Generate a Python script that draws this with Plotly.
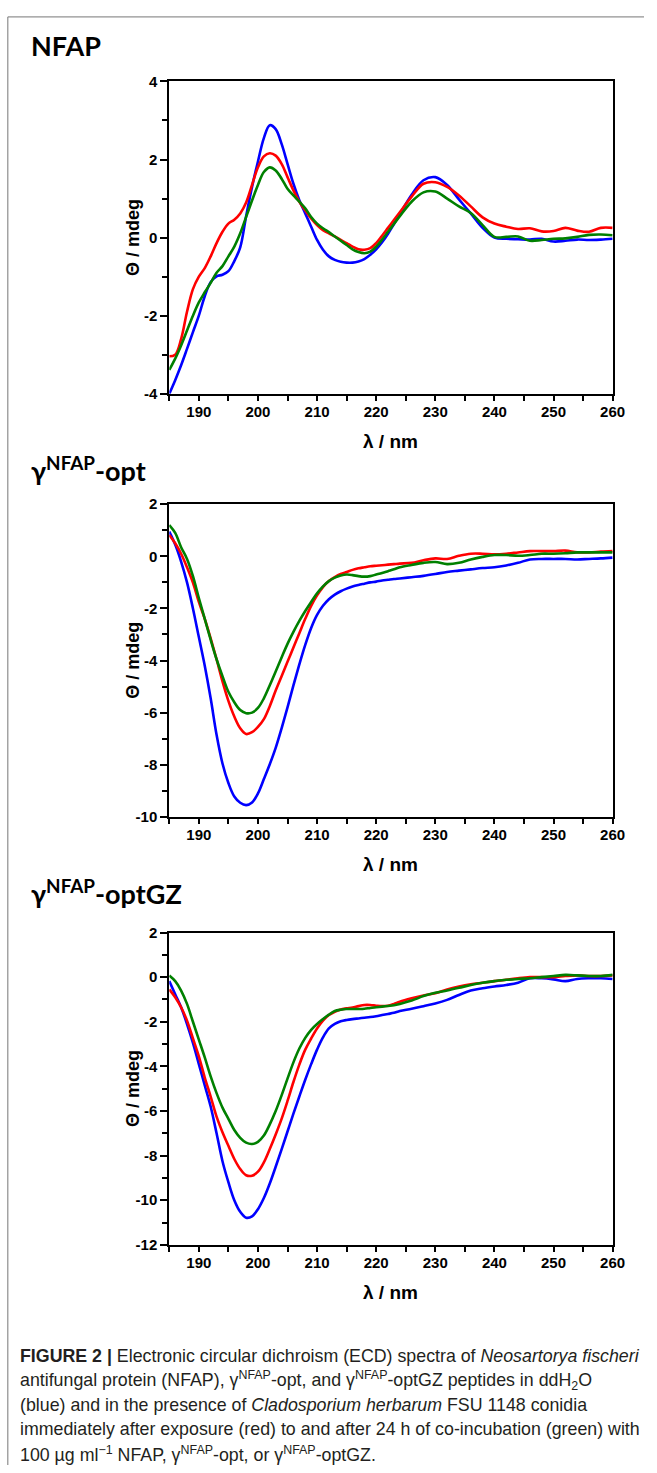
import plotly.graph_objects as go

# wavelength grid (nm) the curves were read at
wavelength = list(range(185, 225)) + list(range(226, 261, 2))

# ---- NFAP ----
nfap_water = [-4.0, -3.65, -3.27, -2.85, -2.42, -2.0, -1.5, -1.14, -0.99, -0.95,
              -0.86, -0.6, -0.25, 0.55, 1.3, 1.95, 2.55, 2.88, 2.78, 2.4,
              1.89, 1.38, 0.96, 0.62, 0.28, -0.06, -0.31, -0.48, -0.57, -0.62,
              -0.64, -0.64, -0.61, -0.55, -0.44, -0.3, -0.12, 0.1, 0.35, 0.6,
              1.1, 1.47, 1.55, 1.35, 0.98, 0.62, 0.25, 0.0, -0.03, -0.04,
              -0.05, -0.03, -0.1, -0.08, -0.05, -0.06, -0.05, -0.03]
nfap_0h = [-3.04, -3.0, -2.6, -1.9, -1.32, -1.0, -0.78, -0.48, -0.14, 0.15,
           0.36, 0.46, 0.62, 0.9, 1.35, 1.8, 2.08, 2.16, 2.1, 1.89,
           1.55, 1.21, 0.92, 0.7, 0.49, 0.32, 0.19, 0.11, 0.03, -0.06,
           -0.14, -0.23, -0.3, -0.31, -0.27, -0.14, 0.05, 0.25, 0.45, 0.65,
           1.05, 1.38, 1.42, 1.3, 1.08, 0.8, 0.52, 0.36, 0.28, 0.22,
           0.24, 0.16, 0.17, 0.25, 0.18, 0.15, 0.25, 0.25]
nfap_24h = [-3.39, -3.1, -2.76, -2.38, -2.0, -1.66, -1.4, -1.16, -0.9, -0.73,
            -0.48, -0.23, 0.11, 0.53, 0.95, 1.35, 1.68, 1.8, 1.72, 1.51,
            1.25, 1.08, 0.92, 0.75, 0.53, 0.36, 0.24, 0.14, 0.03, -0.08,
            -0.19, -0.3, -0.37, -0.4, -0.36, -0.23, -0.05, 0.15, 0.35, 0.55,
            0.92, 1.16, 1.18, 1.0, 0.8, 0.63, 0.32, 0.02, 0.02, 0.03,
            -0.08, -0.06, -0.03, -0.02, 0.02, 0.07, 0.08, 0.06]

# ---- gamma-NFAP-opt ----
opt_water = [0.95, 0.45, -0.2, -1.0, -2.0, -3.1, -4.2, -5.45, -6.85, -7.95,
             -8.7, -9.22, -9.46, -9.55, -9.45, -9.1, -8.55, -7.98, -7.35, -6.6,
             -5.8, -4.95, -4.15, -3.4, -2.75, -2.25, -1.9, -1.65, -1.47, -1.34,
             -1.24, -1.16, -1.1, -1.05, -1.0, -0.97, -0.93, -0.9, -0.87, -0.85,
             -0.8, -0.75, -0.68, -0.6, -0.55, -0.5, -0.45, -0.42, -0.35, -0.25,
             -0.12, -0.1, -0.1, -0.1, -0.12, -0.1, -0.08, -0.05]
opt_0h = [0.82, 0.5, 0.1, -0.42, -1.01, -1.75, -2.4, -3.15, -3.95, -4.8,
          -5.55, -6.15, -6.6, -6.82, -6.75, -6.55, -6.25, -5.75, -5.15, -4.6,
          -4.05, -3.5, -2.95, -2.4, -1.9, -1.5, -1.18, -0.95, -0.8, -0.68,
          -0.6, -0.52, -0.46, -0.42, -0.38, -0.36, -0.34, -0.32, -0.3, -0.28,
          -0.25, -0.15, -0.08, -0.1, 0.02, 0.1, 0.1, 0.08, 0.1, 0.15,
          0.2, 0.2, 0.2, 0.22, 0.15, 0.15, 0.18, 0.2]
opt_24h = [1.2, 0.9, 0.35, -0.1, -0.76, -1.6, -2.4, -3.2, -3.95, -4.6,
           -5.2, -5.6, -5.9, -6.02, -6.0, -5.82, -5.45, -4.95, -4.42, -3.88,
           -3.36, -2.9, -2.48, -2.1, -1.75, -1.42, -1.15, -0.95, -0.82, -0.74,
           -0.7, -0.72, -0.76, -0.78, -0.76, -0.7, -0.64, -0.57, -0.5, -0.42,
           -0.33, -0.25, -0.22, -0.3, -0.25, -0.12, -0.02, 0.05, 0.05, 0.02,
           0.05, 0.1, 0.1, 0.12, 0.15, 0.15, 0.15, 0.15]

# ---- gamma-NFAP-optGZ ----
optgz_water = [-0.18, -0.77, -1.35, -2.1, -2.95, -3.9, -4.85, -5.8, -7.0, -8.25,
               -9.19, -10.0, -10.52, -10.78, -10.72, -10.4, -9.9, -9.25, -8.5, -7.72,
               -6.92, -6.12, -5.35, -4.6, -3.9, -3.25, -2.7, -2.3, -2.1, -1.98,
               -1.92, -1.88, -1.85, -1.82, -1.79, -1.75, -1.7, -1.65, -1.6, -1.52,
               -1.42, -1.3, -1.18, -1.02, -0.8, -0.6, -0.5, -0.42, -0.35, -0.25,
               -0.05, -0.05, -0.1, -0.18, -0.08, -0.05, -0.05, -0.08]
optgz_0h = [-0.55, -0.9, -1.35, -1.95, -2.75, -3.55, -4.5, -5.35, -6.25, -6.95,
            -7.56, -8.15, -8.6, -8.88, -8.9, -8.72, -8.3, -7.7, -7.05, -6.35,
            -5.55, -4.7, -3.92, -3.25, -2.75, -2.3, -1.95, -1.7, -1.55, -1.45,
            -1.4, -1.36, -1.3, -1.25, -1.25, -1.28, -1.3, -1.28, -1.2, -1.1,
            -0.95, -0.82, -0.72, -0.55, -0.42, -0.32, -0.25, -0.18, -0.12, -0.05,
            0.0, 0.0, 0.0, 0.05, 0.08, 0.05, 0.05, 0.08]
optgz_24h = [0.07, -0.18, -0.6, -1.2, -2.0, -2.8, -3.6, -4.45, -5.2, -5.85,
             -6.35, -6.85, -7.2, -7.42, -7.48, -7.38, -7.1, -6.6, -6.0, -5.3,
             -4.55, -3.82, -3.2, -2.72, -2.36, -2.1, -1.88, -1.68, -1.52, -1.46,
             -1.43, -1.43, -1.43, -1.42, -1.38, -1.35, -1.32, -1.29, -1.26, -1.2,
             -1.05, -0.85, -0.7, -0.6, -0.48, -0.35, -0.25, -0.18, -0.12, -0.08,
             -0.05, 0.0, 0.05, 0.1, 0.08, 0.05, 0.05, 0.1]

# ticks
x_ticks = [190, 200, 210, 220, 230, 240, 250, 260]
x_ticklabels = ["190", "200", "210", "220", "230", "240", "250", "260"]
y_ticks_nfap = [-4, -2, 0, 2, 4]
y_labels_nfap = ["-4", "-2", "0", "2", "4"]
y_ticks_opt = [-10, -8, -6, -4, -2, 0, 2]
y_labels_opt = ["-10", "-8", "-6", "-4", "-2", "0", "2"]
y_ticks_optgz = [-12, -10, -8, -6, -4, -2, 0, 2]
y_labels_optgz = ["-12", "-10", "-8", "-6", "-4", "-2", "0", "2"]

panel_titles = ["NFAP", "γ<sup>NFAP</sup>-opt", "γ<sup>NFAP</sup>-optGZ"]

caption_lines = [
    "<b>FIGURE 2 |</b> Electronic circular dichroism (ECD) spectra of <i>Neosartorya fischeri</i>",
    "antifungal protein (NFAP), γ<sup>NFAP</sup>-opt, and γ<sup>NFAP</sup>-optGZ peptides in ddH<sub>2</sub>O",
    "(blue) and in the presence of <i>Cladosporium herbarum</i> FSU 1148 conidia",
    "immediately after exposure (red) to and after 24 h of co-incubation (green) with",
    "100 µg ml<sup>−1</sup> NFAP, γ<sup>NFAP</sup>-opt, or γ<sup>NFAP</sup>-optGZ.",
]

W, H = 657, 1473
COLORS = ["#0000ff", "#ff0000", "#008000"]


def fx(p):
    return p / W


def fy(p):
    return 1 - p / H


# pixel boxes of the three plot areas (left, right, top, bottom)
X_LEFT, X_RIGHT = 172.7, 625.0
boxes = [(73.3, 389.3), (501.0, 817.3), (934.3, 1250.3)]

panels = [
    (nfap_water, nfap_0h, nfap_24h, [-4, 4], y_ticks_nfap, y_labels_nfap),
    (opt_water, opt_0h, opt_24h, [-10, 2], y_ticks_opt, y_labels_opt),
    (optgz_water, optgz_0h, optgz_24h, [-12, 2], y_ticks_optgz, y_labels_optgz),
]

fig = go.Figure()
tick_font = dict(family="Liberation Sans, Arial", size=15, color="black", weight="bold")
layout = {}
annotations = []

for i, (blue, red, green, yr, yt, yl) in enumerate(panels):
    n = "" if i == 0 else str(i + 1)
    for series, c in zip([blue, red, green], COLORS):
        fig.add_trace(go.Scatter(x=wavelength, y=series, mode="lines",
                                 line=dict(color=c, width=2.6, shape="spline", smoothing=1.0),
                                 xaxis="x" + n, yaxis="y" + n, showlegend=False,
                                 hoverinfo="skip"))
    top, bot = boxes[i]
    layout["xaxis" + n] = dict(
        domain=[fx(X_LEFT), fx(X_RIGHT)], anchor="y" + n, range=[185, 260],
        tickmode="array", tickvals=x_ticks, ticktext=x_ticklabels,
        ticks="outside", ticklen=5, tickwidth=2, tickcolor="black",
        minor=dict(dtick=5, tick0=185, ticks="outside", ticklen=5, tickwidth=2, tickcolor="black"),
        showline=True, linewidth=2, linecolor="black", mirror=True,
        showgrid=False, zeroline=False, tickfont=tick_font, ticklabelstandoff=-2,
    )
    layout["yaxis" + n] = dict(
        domain=[fy(bot), fy(top)], anchor="x" + n, range=yr,
        tickmode="array", tickvals=yt, ticktext=yl,
        ticks="outside", ticklen=7, tickwidth=2, tickcolor="black",
        minor=dict(dtick=1, tick0=0, ticks="outside", ticklen=5, tickwidth=2, tickcolor="black"),
        showline=True, linewidth=2, linecolor="black", mirror=True,
        showgrid=False, zeroline=False, tickfont=tick_font, ticklabelstandoff=0,
    )
    # axis titles
    annotations.append(dict(text="<b>λ / nm</b>", x=fx((X_LEFT + X_RIGHT) / 2), y=fy(bot + 48),
                            xref="paper", yref="paper", showarrow=False, xanchor="center", yanchor="middle",
                            font=dict(family="Liberation Sans, Arial", size=19, color="black")))
    annotations.append(dict(text="<b>Θ / mdeg</b>", x=fx(135), y=fy((top + bot) / 2), textangle=-90,
                            xref="paper", yref="paper", showarrow=False, xanchor="center", yanchor="middle",
                            font=dict(family="Liberation Sans, Arial", size=18, color="black")))

# panel titles
for t, yc in zip(panel_titles, [37, 465, 893]):
    annotations.append(dict(text="<b>" + t + "</b>", x=fx(30), y=fy(yc), xref="paper", yref="paper",
                            showarrow=False, xanchor="left", yanchor="middle",
                            font=dict(family="Lato, Noto Sans", size=27, color="black")))

# caption
for k, line in enumerate(caption_lines):
    annotations.append(dict(text=line, x=fx(18), y=fy(1363 + k * 24.6), xref="paper", yref="paper",
                            showarrow=False, xanchor="left", yanchor="middle", align="left",
                            font=dict(family="Liberation Sans, Arial", size=17.8, color="#231f20")))

shapes = [
    dict(type="line", xref="paper", yref="paper", x0=fx(8), x1=1, y0=fy(8), y1=fy(8),
         line=dict(color="#777777", width=1)),
    dict(type="line", xref="paper", yref="paper", x0=fx(8), x1=fx(8), y0=fy(8), y1=0,
         line=dict(color="#777777", width=1)),
]

fig.update_layout(width=W, height=H, margin=dict(l=0, r=0, t=0, b=0),
                  paper_bgcolor="white", plot_bgcolor="white",
                  annotations=annotations, shapes=shapes, **layout)

fig.write_html("out.html", config={"displayModeBar": False},
               post_script="document.body.style.margin = '0';")
